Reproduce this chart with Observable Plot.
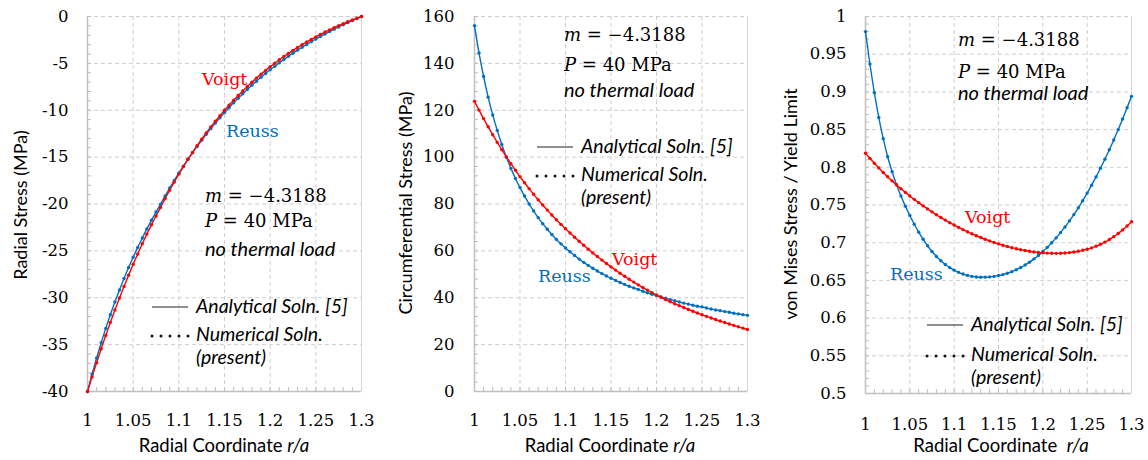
<!DOCTYPE html>
<html><head><meta charset="utf-8">
<script src="https://cdn.jsdelivr.net/npm/d3@7"></script>
<script src="https://cdn.jsdelivr.net/npm/@observablehq/plot@0.6"></script>
<style>
body{margin:0;background:#fff;}
#wrap{position:relative;width:1148px;height:460px;overflow:hidden;background:#fff;}
#wrap svg{position:absolute;top:0;}
text{white-space:pre;}
</style></head><body><div id="wrap"></div>
<script>
// ---------- data ----------
const radialCoord = [1,1.005,1.01,1.015,1.02,1.025,1.03,1.035,1.04,1.045,1.05,1.055,1.06,1.065,1.07,1.075,1.08,1.085,1.09,1.095,1.1,1.105,1.11,1.115,1.12,1.125,1.13,1.135,1.14,1.145,1.15,1.155,1.16,1.165,1.17,1.175,1.18,1.185,1.19,1.195,1.2,1.205,1.21,1.215,1.22,1.225,1.23,1.235,1.24,1.245,1.25,1.255,1.26,1.265,1.27,1.275,1.28,1.285,1.29,1.295,1.3];

const radialReuss = [-40,-38.16,-36.43,-34.80,-33.27,-31.82,-30.46,-29.17,-27.94,-26.78,-25.68,-24.63,-23.62,-22.66,-21.74,-20.86,-20.01,-19.14,-18.30,-17.50,-16.71,-15.96,-15.23,-14.54,-13.86,-13.21,-12.57,-11.96,-11.37,-10.81,-10.25,-9.73,-9.21,-8.72,-8.24,-7.78,-7.33,-6.90,-6.48,-6.08,-5.68,-5.31,-4.94,-4.59,-4.24,-3.91,-3.59,-3.28,-2.98,-2.69,-2.40,-2.13,-1.86,-1.61,-1.36,-1.12,-0.88,-0.65,-0.43,-0.21,0];
const radialVoigt = [-40,-38.44,-36.93,-35.44,-34.02,-32.63,-31.31,-30.03,-28.79,-27.59,-26.43,-25.32,-24.24,-23.21,-22.22,-21.28,-20.36,-19.42,-18.52,-17.66,-16.81,-16.01,-15.23,-14.50,-13.78,-13.09,-12.42,-11.78,-11.17,-10.58,-10.00,-9.46,-8.93,-8.43,-7.94,-7.47,-7.01,-6.57,-6.15,-5.75,-5.35,-4.98,-4.62,-4.27,-3.93,-3.61,-3.30,-3.00,-2.72,-2.44,-2.17,-1.91,-1.66,-1.43,-1.20,-0.98,-0.77,-0.56,-0.37,-0.18,0];

const hoopReuss = [156.1,144.4,134.4,125.6,118.0,111.4,105.4,100.0,95.2,90.9,87.0,83.4,80.0,77.0,74.2,71.6,69.2,67.0,64.9,63.0,61.2,59.6,58.0,56.5,55.1,53.8,52.6,51.4,50.3,49.3,48.3,47.4,46.5,45.7,44.9,44.2,43.5,42.8,42.1,41.5,40.9,40.3,39.8,39.2,38.7,38.2,37.7,37.3,36.8,36.4,36.1,35.6,35.2,34.8,34.5,34.1,33.8,33.4,33.1,32.8,32.5];
const hoopVoigt = [123.8,120.06,116.44,112.94,109.56,106.3,103.16,100.12,97.2,94.38,91.68,89.07,86.56,84.13,81.8,79.55,77.39,75.29,73.27,71.31,69.43,67.6,65.82,64.08,62.39,60.74,59.14,57.58,56.07,54.6,53.18,51.8,50.46,49.16,47.9,46.68,45.5,44.36,43.26,42.2,41.18,40.2,39.25,38.34,37.46,36.62,35.81,35.01,34.24,33.5,32.77,32.06,31.38,30.71,30.05,29.42,28.8,28.2,27.6,27.02,26.46];

const vmReuss = [0.980,0.937,0.899,0.866,0.838,0.814,0.794,0.777,0.762,0.7485,0.736,0.7245,0.714,0.7045,0.696,0.6883,0.6817,0.676,0.6711,0.667,0.6636,0.6607,0.6584,0.6566,0.6553,0.6545,0.6542,0.6543,0.6547,0.6553,0.6564,0.6577,0.6595,0.6616,0.6642,0.6671,0.6704,0.6742,0.6785,0.6831,0.6883,0.6938,0.6999,0.7064,0.7134,0.7209,0.7289,0.7373,0.7462,0.7557,0.7658,0.7763,0.7873,0.7988,0.8107,0.8233,0.8363,0.85,0.8641,0.8789,0.8941];
const vmVoigt = [0.8187,0.8119,0.8054,0.7992,0.7932,0.7875,0.782,0.7767,0.7716,0.7667,0.762,0.7575,0.7531,0.7489,0.7448,0.7409,0.7371,0.7335,0.73,0.7266,0.7234,0.7203,0.7174,0.7145,0.7118,0.7093,0.7069,0.7046,0.7024,0.7003,0.6984,0.6966,0.695,0.6934,0.692,0.6908,0.6897,0.6887,0.6878,0.6871,0.6866,0.6862,0.686,0.6859,0.686,0.6864,0.6869,0.6877,0.6887,0.6899,0.6914,0.6932,0.6954,0.6979,0.7008,0.7042,0.708,0.7122,0.717,0.7222,0.7279];

const xTicks = [1,1.05,1.1,1.15,1.2,1.25,1.3];
const radialTicks = [-40,-35,-30,-25,-20,-15,-10,-5,0];
const hoopTicks = [0,20,40,60,80,100,120,140,160];
const vmTicks = [0.5,0.55,0.6,0.65,0.7,0.75,0.8,0.85,0.9,0.95,1];

const seriesNames = ["Reuss","Voigt"];
const seriesColors = ["#0070C0","#FF0000"];

const yTitles = ["Radial Stress (MPa)","Circumferential Stress (MPa)","von Mises Stress / Yield Limit"];
const legendTexts = ["Analytical Soln. [5]","Numerical Soln.","(present)"];

// ---------- layout ----------
const SERIF = "DejaVu Serif", SANS = "Lato";
const wrap = document.getElementById("wrap");

function addText(svg, x, y, parts, o = {}) {
  const t = svg.append("text").attr("x", x).attr("y", y)
    .attr("font-family", o.family || SANS).attr("font-size", o.size || 16)
    .attr("fill", o.fill || "#000").attr("text-anchor", o.anchor || "start");
  if (o.rotate) t.attr("transform", `rotate(-90 ${x} ${y})`).attr("dominant-baseline", "central");
  parts.forEach(p => {
    const s = t.append("tspan").text(p.t);
    if (p.i) s.attr("font-style", "italic");
    if (p.f) s.attr("font-family", p.f);
  });
}

function makePanel(cfg) {
  const H = 460 - cfg.mT - cfg.mB, W = cfg.width - cfg.mL - cfg.mR;
  const [yMin, yMax] = cfg.yDomain;
  const rows = [];
  seriesNames.forEach((name, k) => {
    const vals = k === 0 ? cfg.reuss : cfg.voigt;
    radialCoord.forEach((r, i) => rows.push({r, v: vals[i], s: name}));
  });
  const xMinor = d3.range(31).map(i => 1 + i * 0.01);
  const yMinor = d3.range(yMin, yMax + cfg.minorStep / 2, cfg.minorStep);
  const gridStyle = {stroke: "#cfcfcf", strokeOpacity: 1, strokeDasharray: "4,3", strokeWidth: 1};
  const plot = Plot.plot({
    width: cfg.width, height: 460,
    marginLeft: cfg.mL, marginRight: cfg.mR, marginTop: cfg.mT, marginBottom: cfg.mB,
    style: {fontFamily: SERIF, fontSize: "16.5px", color: "#000", background: "transparent", overflow: "visible"},
    x: {domain: [1, 1.3]},
    y: {domain: cfg.yDomain},
    color: {domain: seriesNames, range: seriesColors},
    marks: [
      Plot.gridX(xTicks, gridStyle),
      Plot.gridY(cfg.yTicks, gridStyle),
      Plot.tickY(yMinor, {y: d => d, insetRight: W - 4, stroke: "#bdbdbd", strokeWidth: 1}),
      Plot.tickX(xMinor, {x: d => d, insetTop: H - 4, stroke: "#bdbdbd", strokeWidth: 1}),
      Plot.ruleX([1], {stroke: "#bfbfbf", strokeWidth: 1.5}),
      Plot.ruleX([1.3], {stroke: "#d4d4d4", strokeWidth: 1}),
      Plot.ruleY([yMin], {stroke: "#bfbfbf", strokeWidth: 1.5}),
      Plot.axisX(xTicks, {tickSize: 0, tickPadding: cfg.xPad, tickFormat: d => String(d), label: null}),
      Plot.axisY(cfg.yTicks, {tickSize: 0, tickPadding: cfg.yPad, tickFormat: d => String(d), label: null}),
      Plot.line(rows, {x: "r", y: "v", z: "s", stroke: "s", strokeWidth: 1.4, curve: "catmull-rom"}),
      Plot.dot(rows, {x: "r", y: "v", fill: "s", r: 1.7, stroke: "none"})
    ]
  });
  plot.style.left = cfg.left + "px";
  wrap.appendChild(plot);
  const svg = d3.select(plot);
  const L = cfg.left;
  const a = cfg.ann;
  // axis titles
  addText(svg, a.xTitle[0] - L, a.xTitle[1], [{t: "Radial Coordinate" + a.xGap}, {t: "r/a", i: true}], {anchor: "middle", size: 18.5});
  addText(svg, a.yTitle[0] - L, a.yTitle[1], [{t: cfg.yTitle}], {anchor: "middle", size: 18, rotate: true});
  // parameters
  addText(svg, a.m[0] - L, a.m[1], [{t: "m", i: true}, {t: " = −4.3188"}], {family: SERIF, size: 18});
  addText(svg, a.P[0] - L, a.P[1], [{t: "P", i: true}, {t: " = 40 MPa"}], {family: SERIF, size: 18});
  addText(svg, a.no[0] - L, a.no[1], [{t: "no thermal load", i: true}], {size: 20});
  // legend
  svg.append("line").attr("x1", a.leg[0] - L).attr("x2", a.leg[0] + 36 - L)
    .attr("y1", a.leg[1]).attr("y2", a.leg[1]).attr("stroke", "#222").attr("stroke-width", 1.1);
  addText(svg, a.leg[0] + 44 - L, a.leg[1] + 6, [{t: legendTexts[0], i: true}], {size: 19.5});
  for (let k = 0; k < 5; k++) svg.append("circle").attr("cx", a.leg[0] + k * 9 - L).attr("cy", a.leg[2]).attr("r", 1.5).attr("fill", "#111");
  addText(svg, a.leg[0] + 44 - L, a.leg[2] + 5, [{t: legendTexts[1], i: true}], {size: 19.5});
  addText(svg, a.leg[0] + 44 - L, a.leg[2] + 28, [{t: legendTexts[2], i: true}], {size: 19.5});
  // series labels
  addText(svg, a.voigt[0] - L, a.voigt[1], [{t: "Voigt"}], {family: SERIF, size: 17.5, fill: seriesColors[1]});
  addText(svg, a.reuss[0] - L, a.reuss[1], [{t: "Reuss"}], {family: SERIF, size: 17.5, fill: seriesColors[0]});
}

makePanel({left: 0, width: 380, mL: 87, mR: 19, mT: 16, mB: 69, xPad: 23, yPad: 19,
  yDomain: [-40, 0], yTicks: radialTicks, minorStep: 1, yTitle: yTitles[0],
  reuss: radialReuss, voigt: radialVoigt,
  ann: {xTitle: [224, 452], xGap: " ", yTitle: [20, 205], m: [205, 202], P: [205, 227], no: [205, 256],
        leg: [152, 307, 336], voigt: [202, 85], reuss: [226, 137]}});
makePanel({left: 380, width: 380, mL: 94, mR: 13, mT: 16, mB: 69, xPad: 23, yPad: 20,
  yDomain: [0, 160], yTicks: hoopTicks, minorStep: 4, yTitle: yTitles[1],
  reuss: hoopReuss, voigt: hoopVoigt,
  ann: {xTitle: [610, 452], xGap: " ", yTitle: [405, 203], m: [564, 41], P: [564, 71], no: [564, 97],
        leg: [537, 147, 176], voigt: [612, 265], reuss: [538, 282]}});
makePanel({left: 760, width: 388, mL: 105, mR: 17, mT: 16, mB: 67, xPad: 25, yPad: 19,
  yDomain: [0.5, 1], yTicks: vmTicks, minorStep: 0.01, yTitle: yTitles[2],
  reuss: vmReuss, voigt: vmVoigt,
  ann: {xTitle: [1001, 452], xGap: "  ", yTitle: [790, 204], m: [958, 46], P: [958, 78], no: [958, 100],
        leg: [927, 325, 356], voigt: [965, 223], reuss: [890, 280]}});
</script>
</body></html>
